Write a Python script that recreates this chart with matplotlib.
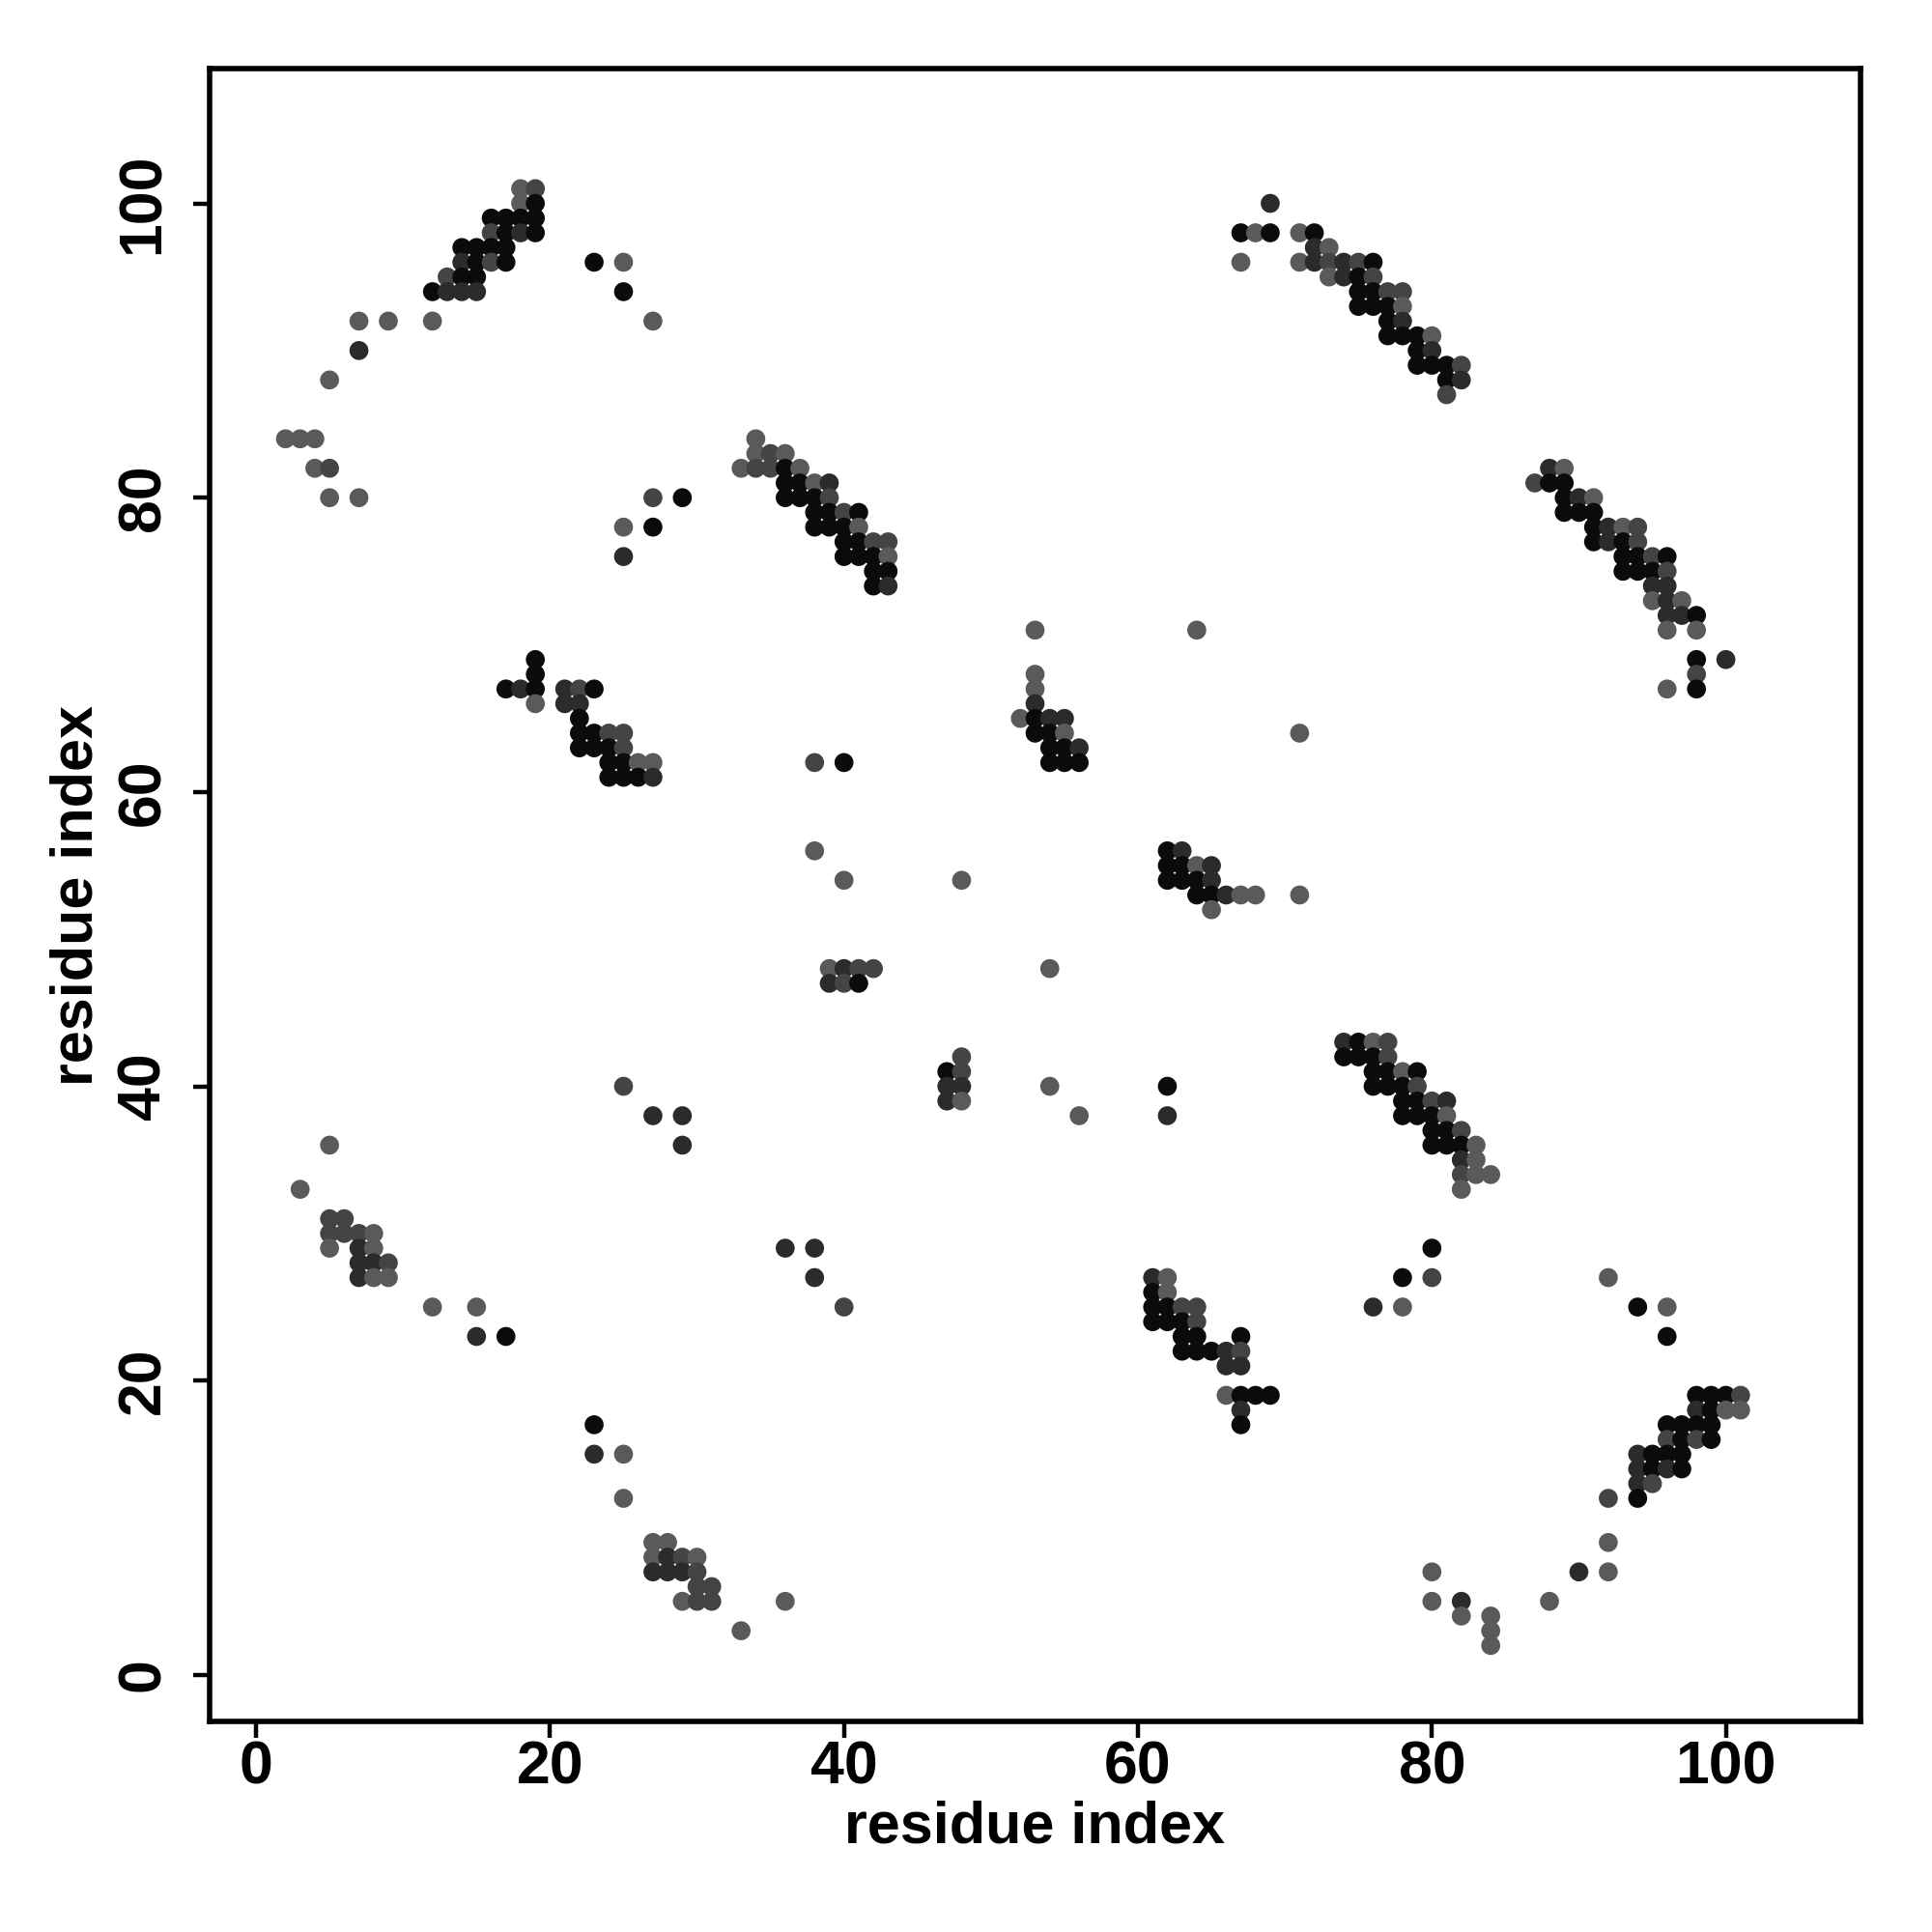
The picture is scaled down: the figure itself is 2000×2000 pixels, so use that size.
import numpy as np
import matplotlib
matplotlib.use('Agg')
import matplotlib.pyplot as plt

# contacts: (residue i, residue j, shade) ; shade 0 = black .. 3 = light grey
block_top_left = [
    (18, 101, 3), (19, 101, 2), (18, 100, 3), (19, 100, 0),
    (16, 99, 0), (17, 99, 0), (18, 99, 0), (19, 99, 0),
    (16, 98, 2), (17, 98, 0), (18, 98, 1), (19, 98, 0),
    (14, 97, 0), (15, 97, 0), (16, 97, 0), (17, 97, 0),
    (14, 96, 1), (15, 96, 0), (16, 96, 2), (17, 96, 0),
    (13, 95, 2), (14, 95, 0), (15, 95, 0),
    (12, 94, 0), (13, 94, 1), (14, 94, 1), (15, 94, 1),
    (23, 96, 0), (25, 96, 3), (25, 94, 0), (27, 92, 3),
    (7, 92, 3), (9, 92, 3), (12, 92, 3), (7, 90, 1), (5, 88, 3),
    (2, 84, 3), (3, 84, 3), (4, 84, 3), (4, 82, 3), (5, 82, 2), (5, 80, 3), (7, 80, 3),
    (27, 80, 2), (29, 80, 0), (25, 78, 3), (27, 78, 0), (25, 76, 1),
]

block_34_80 = [
    (34, 84, 3),
    (34, 83, 3), (35, 83, 2), (36, 83, 3),
    (33, 82, 3), (34, 82, 2), (35, 82, 2), (36, 82, 0), (37, 82, 3),
    (36, 81, 0), (37, 81, 0), (38, 81, 3), (39, 81, 1),
    (36, 80, 0), (37, 80, 0), (38, 80, 0), (39, 80, 2),
    (38, 79, 0), (39, 79, 0), (40, 79, 2), (41, 79, 0),
    (38, 78, 0), (39, 78, 0), (40, 78, 0), (41, 78, 3),
    (40, 77, 0), (41, 77, 0), (42, 77, 2), (43, 77, 2),
    (40, 76, 0), (41, 76, 0), (42, 76, 0), (43, 76, 3),
    (42, 75, 0), (43, 75, 0), (42, 74, 0), (43, 74, 1),
]

block_20_65 = [
    (19, 69, 0), (19, 68, 0),
    (17, 67, 0), (18, 67, 1), (19, 67, 0), (21, 67, 1), (22, 67, 2), (23, 67, 0),
    (19, 66, 3), (21, 66, 1), (22, 66, 1), (22, 65, 0),
    (22, 64, 0), (23, 64, 0), (24, 64, 2), (25, 64, 2),
    (22, 63, 0), (23, 63, 0), (24, 63, 0), (25, 63, 2),
    (24, 62, 0), (25, 62, 0), (26, 62, 3), (27, 62, 3),
    (24, 61, 0), (25, 61, 0), (26, 61, 0), (27, 61, 1),
]

block_middle = [
    (53, 71, 3), (64, 71, 3), (53, 68, 3), (53, 67, 3), (53, 66, 1),
    (52, 65, 3), (53, 65, 0), (54, 65, 1), (55, 65, 1),
    (53, 64, 0), (54, 64, 0), (55, 64, 3),
    (54, 63, 0), (55, 63, 0), (56, 63, 1),
    (54, 62, 0), (55, 62, 0), (56, 62, 0),
    (38, 62, 2), (40, 62, 0), (38, 56, 3), (40, 54, 3), (48, 54, 3),
    (62, 56, 0), (63, 56, 1),
    (62, 55, 0), (63, 55, 0), (64, 55, 3), (65, 55, 1),
    (62, 54, 0), (63, 54, 0), (64, 54, 0), (65, 54, 1),
    (64, 53, 0), (65, 53, 0), (66, 53, 1), (67, 53, 3), (68, 53, 3),
    (65, 52, 3), (71, 64, 3), (71, 53, 3),
]

block_top_right = [
    (69, 100, 1),
    (67, 98, 0), (68, 98, 3), (69, 98, 0), (71, 98, 3), (72, 98, 0),
    (67, 96, 3), (72, 97, 1), (73, 97, 3),
    (71, 96, 3), (72, 96, 1), (73, 96, 2), (74, 96, 1), (75, 96, 2), (76, 96, 0),
    (73, 95, 3), (74, 95, 1), (75, 95, 0), (76, 95, 2),
    (75, 94, 0), (76, 94, 0), (77, 94, 2), (78, 94, 2),
    (75, 93, 0), (76, 93, 0), (77, 93, 0), (78, 93, 3),
    (77, 92, 0), (78, 92, 1),
    (77, 91, 0), (78, 91, 0), (79, 91, 0), (80, 91, 3),
    (79, 90, 0), (80, 90, 1),
    (79, 89, 0), (80, 89, 0), (81, 89, 0), (82, 89, 2),
    (81, 88, 0), (82, 88, 1), (81, 87, 2),
]

block_90_75 = [
    (88, 82, 1), (89, 82, 3),
    (87, 81, 2), (88, 81, 0), (89, 81, 0),
    (89, 80, 0), (90, 80, 1), (91, 80, 3),
    (89, 79, 0), (90, 79, 0), (91, 79, 0),
    (91, 78, 0), (92, 78, 1), (93, 78, 3), (94, 78, 2),
    (91, 77, 0), (92, 77, 1), (93, 77, 0), (94, 77, 2),
    (93, 76, 0), (94, 76, 0), (95, 76, 2), (96, 76, 0),
    (93, 75, 0), (94, 75, 0), (95, 75, 0), (96, 75, 2),
    (95, 74, 1), (96, 74, 1),
    (95, 73, 3), (96, 73, 1), (97, 73, 3),
    (96, 72, 1), (97, 72, 1), (98, 72, 0),
    (96, 71, 3), (98, 71, 3),
    (98, 69, 0), (100, 69, 1), (98, 68, 2), (96, 67, 3), (98, 67, 0),
]

block_40_45 = [
    (39, 48, 3), (40, 48, 1), (41, 48, 2), (42, 48, 2),
    (39, 47, 1), (40, 47, 2), (41, 47, 0),
    (54, 48, 3), (48, 42, 2), (47, 41, 0), (48, 41, 2),
    (47, 40, 1), (48, 40, 1), (47, 39, 1), (48, 39, 3),
    (54, 40, 3), (56, 38, 3), (62, 40, 0), (62, 38, 1),
    (36, 29, 1), (38, 29, 1), (38, 27, 1),
    (61, 27, 1), (62, 27, 3), (61, 26, 0), (62, 26, 3),
]

block_78_38 = [
    (74, 43, 1), (75, 43, 0), (76, 43, 3), (77, 43, 2),
    (74, 42, 0), (75, 42, 0), (76, 42, 0), (77, 42, 2),
    (76, 41, 0), (77, 41, 0), (78, 41, 3), (79, 41, 0),
    (76, 40, 0), (77, 40, 0), (78, 40, 0), (79, 40, 2),
    (78, 39, 0), (79, 39, 0), (80, 39, 2), (81, 39, 1),
    (78, 38, 0), (79, 38, 0), (80, 38, 0), (81, 38, 3),
    (80, 37, 0), (81, 37, 0), (82, 37, 2),
    (80, 36, 0), (81, 36, 0), (82, 36, 0), (83, 36, 3),
    (82, 35, 1), (83, 35, 3),
    (82, 34, 2), (83, 34, 3), (84, 34, 3), (82, 33, 3),
    (80, 29, 0), (78, 27, 0), (80, 27, 2), (92, 27, 3),
]

block_lower_left = [
    (25, 40, 2), (27, 38, 1), (29, 38, 1), (29, 36, 1), (5, 36, 3), (3, 33, 3),
    (5, 31, 2), (6, 31, 2),
    (5, 30, 2), (6, 30, 2), (7, 30, 2), (8, 30, 3),
    (5, 29, 3), (7, 29, 1), (8, 29, 3),
    (7, 28, 1), (8, 28, 1), (9, 28, 2),
    (7, 27, 1), (8, 27, 3), (9, 27, 3),
    (12, 25, 3), (15, 25, 3), (15, 23, 1), (17, 23, 0),
    (23, 17, 0), (23, 15, 1), (25, 15, 3), (25, 12, 3),
    (27, 9, 3), (28, 9, 3),
    (27, 8, 3), (28, 8, 1), (29, 8, 2), (30, 8, 3),
    (27, 7, 1), (28, 7, 1), (29, 7, 1), (30, 7, 2),
    (30, 6, 2), (31, 6, 2),
    (29, 5, 3), (30, 5, 2), (31, 5, 2),
    (33, 3, 3), (36, 5, 3), (40, 25, 2),
]

block_63_23 = [
    (61, 25, 0), (62, 25, 0), (63, 25, 2), (64, 25, 2),
    (61, 24, 0), (62, 24, 0), (63, 24, 0), (64, 24, 2),
    (63, 23, 0), (64, 23, 0), (67, 23, 0),
    (63, 22, 0), (64, 22, 0), (65, 22, 0), (66, 22, 1), (67, 22, 2),
    (66, 21, 1), (67, 21, 1),
    (66, 19, 3), (67, 19, 0), (68, 19, 0), (69, 19, 0),
    (67, 18, 1), (67, 17, 0),
]

block_lower_right = [
    (76, 25, 1), (78, 25, 3), (94, 25, 0), (96, 25, 3), (96, 23, 0),
    (98, 19, 0), (99, 19, 0), (100, 19, 0), (101, 19, 2),
    (98, 18, 1), (99, 18, 0), (100, 18, 3), (101, 18, 3),
    (96, 17, 0), (97, 17, 0), (98, 17, 0), (99, 17, 0),
    (96, 16, 2), (97, 16, 0), (98, 16, 2), (99, 16, 0),
    (94, 15, 1), (95, 15, 0), (96, 15, 0), (97, 15, 0),
    (94, 14, 1), (95, 14, 0), (96, 14, 1), (97, 14, 0),
    (94, 13, 1), (95, 13, 2),
    (92, 12, 2), (94, 12, 0), (92, 9, 3),
    (80, 7, 3), (90, 7, 1), (92, 7, 3),
    (80, 5, 3), (82, 5, 1), (88, 5, 3),
    (82, 4, 3), (84, 4, 3), (84, 3, 3), (84, 2, 3),
]

axis_ticks = [0, 20, 40, 60, 80, 100]
axis_title = 'residue index'
shade_colors = ['#0b0b0b', '#2b2b2b', '#444444', '#5a5a5a']

plt.rcParams['font.family'] = ['Liberation Sans', 'DejaVu Sans']
plt.rcParams['font.weight'] = 'bold'

blocks = [block_top_left, block_34_80, block_20_65, block_middle, block_top_right,
          block_90_75, block_40_45, block_78_38, block_lower_left, block_63_23,
          block_lower_right]
pts = np.array([p for b in blocks for p in b])

fig = plt.figure(figsize=(10, 10), dpi=200)
ax = fig.add_axes([0.1085, 0.109, 0.8545, 0.8555])

ax.scatter(pts[:, 0], pts[:, 1], s=50, c=[shade_colors[k] for k in pts[:, 2]],
           linewidths=0)

# R style 4% padding around 1..105
ax.set_xlim(-3.16, 109.16)
ax.set_ylim(-3.16, 109.16)

ax.set_xticks(axis_ticks)
ax.set_yticks(axis_ticks)
ax.set_xticklabels([str(t) for t in axis_ticks], fontsize=22.5, fontweight='bold')
ax.set_yticklabels([str(t) for t in axis_ticks], fontsize=22.5, fontweight='bold',
                   rotation=90, va='center')
ax.tick_params(axis='both', direction='out', length=6, width=1.6)
ax.tick_params(axis='x', pad=0.5)
ax.tick_params(axis='y', pad=8)

for s in ax.spines.values():
    s.set_linewidth(2.0)

ax.set_xlabel(axis_title, fontsize=22, fontweight='bold', va='center')
ax.set_ylabel(axis_title, fontsize=22, fontweight='bold', va='center')
ax.xaxis.set_label_coords(0.5, -0.0643)
ax.yaxis.set_label_coords(-0.0802, 0.5)

plt.savefig('out.png', dpi=200)
